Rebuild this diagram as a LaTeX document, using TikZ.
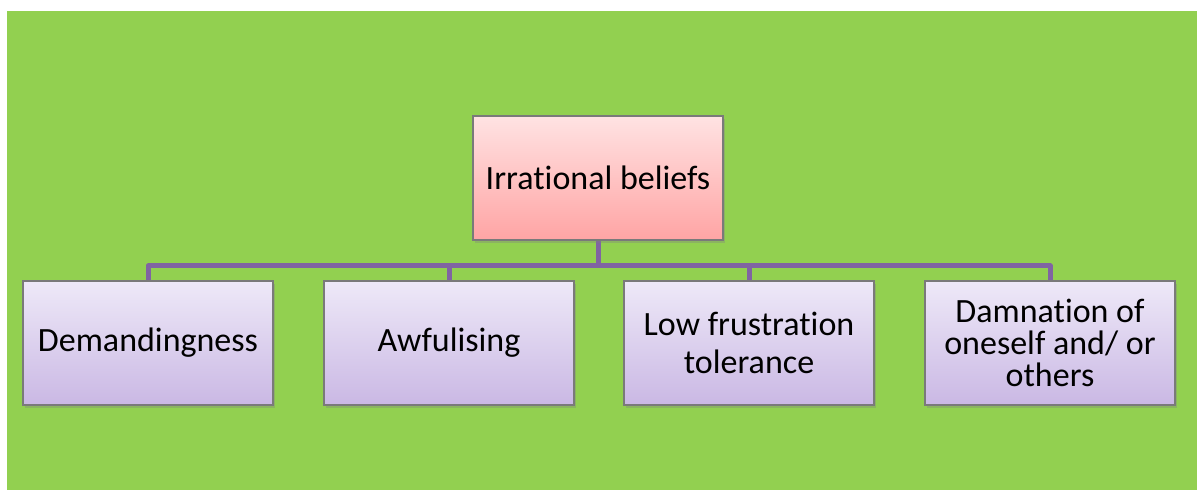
\documentclass[tikz,border=0pt]{standalone}
\usepackage{fontspec}
\setmainfont[Ligatures=NoCommon]{Carlito}
\usetikzlibrary{shadows}
\definecolor{bg}{HTML}{92D050}
\definecolor{pinktop}{HTML}{FFE3E3}
\definecolor{pinkbot}{HTML}{FFA4A4}
\definecolor{lavtop}{HTML}{EEE9F8}
\definecolor{lavbot}{HTML}{CAB8E4}
\definecolor{boxline}{HTML}{7A7A7A}
\definecolor{conncol}{HTML}{8064A2}
\pgfdeclarelayer{back}
\pgfdeclarelayer{mid}
\pgfsetlayers{back,mid,main}
\begin{document}
\begin{tikzpicture}[x=0.5pt,y=-0.5pt,
  box/.style={draw=boxline, line width=0.6pt, minimum width=125pt, minimum height=62pt,
    align=center, inner sep=2pt, font=\fontsize{17}{19}\selectfont,
    drop shadow={shadow xshift=1pt, shadow yshift=-1.6pt, opacity=0.35}},
  topbox/.style={box, top color=pinktop, bottom color=pinkbot},
  kidbox/.style={box, top color=lavtop, bottom color=lavbot},
  conn/.style={draw=conncol, line width=2.5pt, line join=round}]
\useasboundingbox (0,0) rectangle (1197,490);
\node[topbox] (root) at (598,178) {Irrational beliefs};
\node[kidbox] (c1) at (148,343) {Demandingness};
\node[kidbox] (c2) at (449,343) {Awfulising};
\node[kidbox] (c3) at (749,343) {Low frustration\\tolerance};
\node[kidbox, font=\fontsize{17}{16}\selectfont] (c4) at (1050,343) {Damnation of\\oneself and/ or\\others};
\coordinate (bus) at (598,266);
\begin{pgfonlayer}{back}
\fill[white] (0,0) rectangle (1197,490);
\fill[bg] (7,11) rectangle (1197,490);
\end{pgfonlayer}
\begin{pgfonlayer}{mid}
\draw[conn] (root.south) -- (root.south |- bus);
\draw[conn] (c1.north) -- (c1.north |- bus) -- (c4.north |- bus) -- (c4.north);
\draw[conn] (c2.north) -- (c2.north |- bus);
\draw[conn] (c3.north) -- (c3.north |- bus);
\end{pgfonlayer}
\end{tikzpicture}
\end{document}
